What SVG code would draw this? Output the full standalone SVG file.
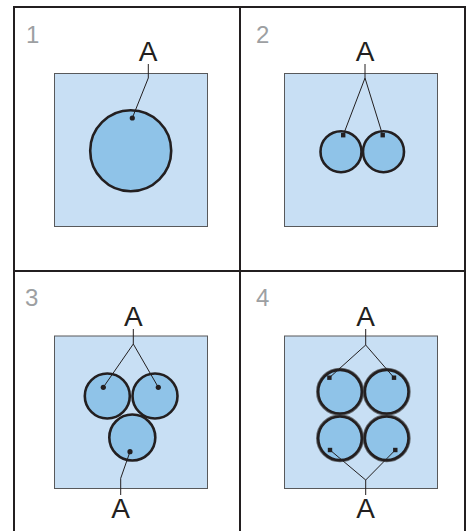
<svg xmlns="http://www.w3.org/2000/svg" width="475" height="531" viewBox="0 0 475 531">
<style>
.frame{fill:none;stroke:#231f20;stroke-width:2}
.bg{fill:#c8dff4;stroke:#58595b;stroke-width:1}
.c{fill:#8fc3e8;stroke:#231f20;stroke-width:2.6}
.fz{fill:none;stroke:#444;stroke-width:2.4;opacity:0.75}
.ld{fill:none;stroke:#231f20;stroke-width:1}
.dot{fill:#231f20}
.num{font-family:"Liberation Sans",Arial,sans-serif;font-size:24px;fill:#9d9fa2}
.lbl{font-family:"Liberation Sans",Arial,sans-serif;font-size:28px;fill:#231f20;text-anchor:middle}
</style>
<defs>
<filter id="soft" x="-20%" y="-20%" width="140%" height="140%">
<feGaussianBlur stdDeviation="0.7"/>
</filter>
</defs>
<rect width="475" height="531" fill="#ffffff"/>
<g id="frame">
<path class="frame" d="M14,531 V7 H465 V531 M240,7 V531 M14,271 H465"/>
</g>
<g id="panel1">
<text class="num" x="26" y="43">1</text>
<rect class="bg" x="54.5" y="73.5" width="153" height="153"/>
<circle class="c" cx="130.7" cy="150.7" r="40.5"/>
<circle class="dot" cx="132.3" cy="118" r="2.6"/>
<text class="lbl" x="148" y="60.5">A</text>
</g>
<g id="panel2">
<text class="num" x="256" y="43">2</text>
<rect class="bg" x="284.5" y="73.5" width="153" height="153"/>
<circle class="c" cx="341" cy="151.7" r="20.5"/>
<circle class="c" cx="383.5" cy="151.7" r="20.5"/>
<rect class="dot" x="341" y="133" width="4.4" height="4.4"/>
<rect class="dot" x="380.5" y="133" width="4.4" height="4.4"/>
<text class="lbl" x="365" y="60.5">A</text>
</g>
<g id="panel3">
<text class="num" x="25" y="305.5">3</text>
<rect class="bg" x="54.5" y="336" width="153" height="152.5"/>
<circle class="c" cx="107.3" cy="396" r="22.5"/>
<circle class="c" cx="155" cy="396" r="22.5"/>
<circle class="c" cx="132.3" cy="437.5" r="23"/>
<circle class="dot" cx="103.3" cy="387.3" r="2.6"/>
<circle class="dot" cx="158.3" cy="387.3" r="2.6"/>
<circle class="dot" cx="130" cy="451.7" r="2.6"/>
<text class="lbl" x="133.3" y="325.5">A</text>
<text class="lbl" x="120.7" y="517.5">A</text>
</g>
<g id="panel4">
<text class="num" x="256" y="305.5">4</text>
<rect class="bg" x="284.5" y="336" width="153" height="152.5"/>
<g filter="url(#soft)">
<circle class="fz" cx="340" cy="391.7" r="22.8"/>
<circle class="fz" cx="386.7" cy="391.7" r="22.8"/>
<circle class="fz" cx="340" cy="438.3" r="22.8"/>
<circle class="fz" cx="386.7" cy="438.3" r="22.8"/>
</g>
<circle class="c" cx="340" cy="391.7" r="21.8"/>
<circle class="c" cx="386.7" cy="391.7" r="21.8"/>
<circle class="c" cx="340" cy="438.3" r="21.8"/>
<circle class="c" cx="386.7" cy="438.3" r="21.8"/>
<rect class="dot" x="327.2" y="375.5" width="4.4" height="4.4"/>
<rect class="dot" x="391.8" y="375.5" width="4.4" height="4.4"/>
<rect class="dot" x="327.8" y="447.8" width="4.4" height="4.4"/>
<rect class="dot" x="393.1" y="447.8" width="4.4" height="4.4"/>
<text class="lbl" x="365.7" y="325.5">A</text>
<text class="lbl" x="365.7" y="517.5">A</text>
</g>
<g id="connectors">
<path class="ld" d="M148.3,64 V78 L132.3,118"/>
<path class="ld" d="M365,64 V78 L343.2,135.2 M365,78 L382.7,135.2"/>
<path class="ld" d="M133.3,329 V344 L103.3,387.3 M133.3,344 L158.3,387.3"/>
<path class="ld" d="M130,451.7 L120.7,478.3 V495"/>
<path class="ld" d="M365.7,329 V345 L329.4,377.7 M365.7,345 L394,377.7"/>
<path class="ld" d="M330,450 L365.7,480 L395.3,450 M365.7,480 V495"/>
</g>
</svg>
